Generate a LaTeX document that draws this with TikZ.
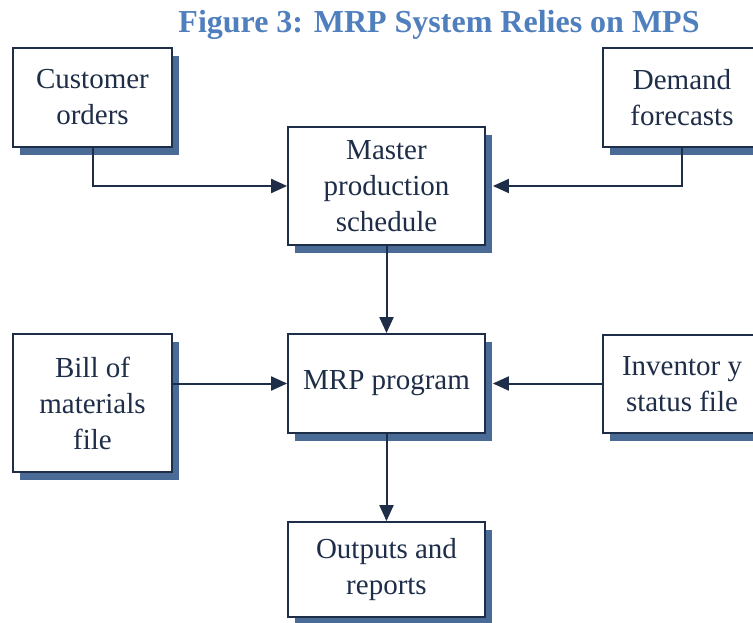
\documentclass[tikz,border=0pt]{standalone}
\usepackage{fontspec}
\setmainfont{Liberation Serif}
\usetikzlibrary{shadows,arrows.meta}
\definecolor{navy}{HTML}{1E2D48}
\definecolor{shadowblue}{HTML}{4A6B95}
\definecolor{titleblue}{HTML}{4F7FBD}
\begin{document}
\begin{tikzpicture}[x=1pt,y=-1pt,
  box/.style={draw=navy, line width=1.8pt, fill=white, align=center,
    font=\fontsize{29}{36}\selectfont, text=navy, inner sep=0pt,
    drop shadow={shadow xshift=7pt, shadow yshift=-8pt, fill=shadowblue, opacity=1}},
  arr/.style={draw=navy, line width=2pt, -{Triangle[length=16pt,width=14pt]}}]
\useasboundingbox (0,0) rectangle (753,623);
\clip (0,0) rectangle (753,623);
\node[font=\bfseries\fontsize{32}{38}\selectfont, text=titleblue, anchor=base] (title) at (439,33) {Figure 3: MRP System Relies on MPS};
\node[box, minimum width=159pt, minimum height=99pt] (cust) at (92.5,97.5) {Customer\\orders};
\node[box, minimum width=158pt, minimum height=99pt] (dem) at (682,97.5) {Demand\\forecasts};
\node[box, minimum width=197pt, minimum height=118pt] (mps) at (386.5,186) {Master\\production\\schedule};
\node[box, minimum width=159pt, minimum height=138pt] (bom) at (92.5,403) {Bill of\\materials\\file};
\node[box, minimum width=197pt, minimum height=99pt] (mrp) at (386.5,383.5) {MRP program};
\node[box, minimum width=158pt, minimum height=98pt] (inv) at (682,384) {Inventor y\\status file};
\node[box, minimum width=197pt, minimum height=95pt] (out) at (386.5,569.5) {Outputs and\\reports};
\draw[arr] (cust.south) |- (mps.west);
\draw[arr] (dem.south) |- ([xshift=7pt]mps.east);
\draw[arr] (mps.south) -- (mrp.north);
\draw[arr] (bom.east |- mrp.west) -- (mrp.west);
\draw[arr] (inv.west |- mrp.east) -- ([xshift=7pt]mrp.east);
\draw[arr] (mrp.south) -- (out.north);
\end{tikzpicture}
\end{document}
